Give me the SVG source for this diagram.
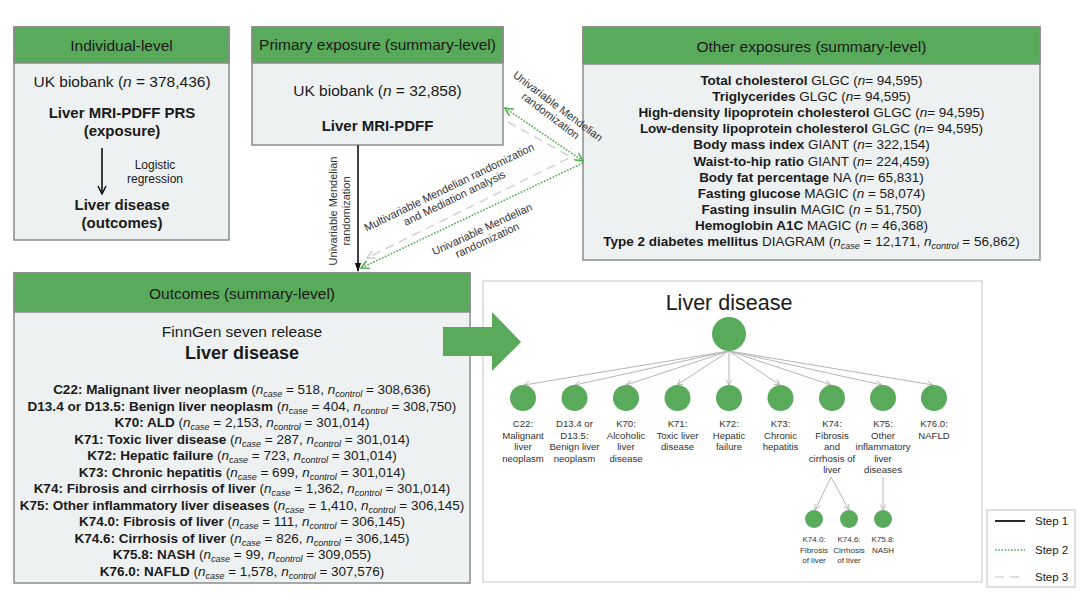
<svg xmlns="http://www.w3.org/2000/svg" width="1080" height="607" viewBox="0 0 1080 607">
<style>
text{font-family:"Liberation Sans",Arial,sans-serif;fill:#1a1a1a}
.hdr{fill:#5aaa5c;stroke:#8c8c8c;stroke-width:1.5}
.body{fill:#eef1f1;stroke:#8c8c8c;stroke-width:1.5}
.ht{font-size:15.5px;text-anchor:middle}
.bt{font-size:15.5px;text-anchor:middle}
.bb{font-size:15px;font-weight:bold;text-anchor:middle}
.lst{font-size:13.5px;text-anchor:middle}
.b{font-weight:bold}
.i{font-style:italic}
.sub{font-size:9px;font-style:italic}
.cl{font-size:11px;fill:#333;text-anchor:middle}
.tl{font-size:9.6px;fill:#333;text-anchor:middle}
.gl{font-size:8px;fill:#333;text-anchor:middle}
.node{fill:#5aaa5c}
.s1{stroke:#111;stroke-width:1.6;fill:none}
.s2{stroke:#4cae4f;stroke-width:1.6;stroke-dasharray:1.6 1.6;fill:none}
.s3{stroke:#d4d4d4;stroke-width:1.6;stroke-dasharray:9 6;fill:none}
.te{stroke:#b5b5b5;stroke-width:1;fill:none}
</style>
<defs>
<marker id="mV" viewBox="0 0 10 10" refX="9" refY="5" markerWidth="10" markerHeight="10" markerUnits="userSpaceOnUse" orient="auto"><path d="M1,1 L9,5 L1,9" fill="none" stroke="#111" stroke-width="1.5"/></marker>
<marker id="mB" viewBox="0 0 10 10" refX="9" refY="5" markerWidth="9" markerHeight="9" markerUnits="userSpaceOnUse" orient="auto"><path d="M0,1.5 L10,5 L0,8.5 z" fill="#111"/></marker>
<marker id="mG" viewBox="0 0 10 10" refX="9" refY="5" markerWidth="10" markerHeight="10" markerUnits="userSpaceOnUse" orient="auto-start-reverse"><path d="M1,1 L9,5 L1,9" fill="none" stroke="#4cae4f" stroke-width="1.5"/></marker>
<marker id="mS" viewBox="0 0 10 10" refX="9" refY="5" markerWidth="10" markerHeight="10" markerUnits="userSpaceOnUse" orient="auto"><path d="M1,1 L9,5 L1,9" fill="none" stroke="#d0d0d0" stroke-width="1.5"/></marker>
<marker id="mT" viewBox="0 0 10 10" refX="9" refY="5" markerWidth="7" markerHeight="7" markerUnits="userSpaceOnUse" orient="auto"><path d="M1,1 L9,5 L1,9" fill="none" stroke="#b5b5b5" stroke-width="1.3"/></marker>
</defs>
<rect width="1080" height="607" fill="#ffffff"/>

<g id="individual-level">
<rect class="body" x="14" y="27" width="215" height="213"/>
<rect class="hdr" x="14" y="27" width="215" height="36"/>
<text class="ht" x="121.5" y="51">Individual-level</text>
<text class="bt" x="122" y="87">UK biobank (<tspan class="i">n</tspan> = 378,436)</text>
<text class="bb" x="122" y="118">Liver MRI-PDFF PRS</text>
<text class="bb" x="122" y="136">(exposure)</text>
<line class="s1" x1="102" y1="148" x2="102" y2="194" marker-end="url(#mV)"/>
<text x="155" y="169" font-size="12px" fill="#333" text-anchor="middle">Logistic</text>
<text x="155" y="183" font-size="12px" fill="#333" text-anchor="middle">regression</text>
<text class="bb" x="122" y="210">Liver disease</text>
<text class="bb" x="122" y="228">(outcomes)</text>
</g>

<g id="primary-exposure">
<rect class="body" x="252" y="27" width="251" height="118"/>
<rect class="hdr" x="252" y="27" width="251" height="36"/>
<text class="ht" x="377.5" y="50">Primary exposure (summary-level)</text>
<text class="bt" x="377.5" y="96">UK biobank (<tspan class="i">n</tspan> = 32,858)</text>
<text class="bb" x="377.5" y="131">Liver MRI-PDFF</text>
</g>

<g id="other-exposures">
<rect class="body" x="583" y="27" width="457" height="233"/>
<rect class="hdr" x="583" y="27" width="457" height="37"/>
<text class="ht" x="811.5" y="52">Other exposures (summary-level)</text>
<text class="lst" x="811.5" y="85"><tspan class="b">Total cholesterol</tspan> GLGC (<tspan class="i">n</tspan>= 94,595)</text>
<text class="lst" x="811.5" y="101.1"><tspan class="b">Triglycerides</tspan> GLGC (<tspan class="i">n</tspan>= 94,595)</text>
<text class="lst" x="811.5" y="117.2"><tspan class="b">High-density lipoprotein cholesterol</tspan> GLGC (<tspan class="i">n</tspan>= 94,595)</text>
<text class="lst" x="811.5" y="133.3"><tspan class="b">Low-density lipoprotein cholesterol</tspan> GLGC (<tspan class="i">n</tspan>= 94,595)</text>
<text class="lst" x="811.5" y="149.4"><tspan class="b">Body mass index</tspan> GIANT (<tspan class="i">n</tspan>= 322,154)</text>
<text class="lst" x="811.5" y="165.5"><tspan class="b">Waist-to-hip ratio</tspan> GIANT (<tspan class="i">n</tspan>= 224,459)</text>
<text class="lst" x="811.5" y="181.6"><tspan class="b">Body fat percentage</tspan> NA (<tspan class="i">n</tspan>= 65,831)</text>
<text class="lst" x="811.5" y="197.7"><tspan class="b">Fasting glucose</tspan> MAGIC (<tspan class="i">n</tspan> = 58,074)</text>
<text class="lst" x="811.5" y="213.8"><tspan class="b">Fasting insulin</tspan> MAGIC (<tspan class="i">n</tspan> = 51,750)</text>
<text class="lst" x="811.5" y="229.9"><tspan class="b">Hemoglobin A1C</tspan> MAGIC (<tspan class="i">n</tspan> = 46,368)</text>
<text class="lst" x="811.5" y="246"><tspan class="b">Type 2 diabetes mellitus</tspan> DIAGRAM (<tspan class="i">n</tspan><tspan class="sub" dy="3">case</tspan><tspan dy="-3"> = 12,171, </tspan><tspan class="i">n</tspan><tspan class="sub" dy="3">control</tspan><tspan dy="-3"> = 56,862)</tspan></text>
</g>

<g id="outcomes">
<rect class="body" x="14" y="273" width="456" height="310"/>
<rect class="hdr" x="14" y="273" width="456" height="39"/>
<text class="ht" x="242" y="299">Outcomes (summary-level)</text>
<text class="bt" x="242" y="337">FinnGen seven release</text>
<text x="242" y="359" font-size="18px" font-weight="bold" text-anchor="middle">Liver disease</text>
<text class="lst" x="242" y="394"><tspan class="b">C22: Malignant liver neoplasm</tspan> (<tspan class="i">n</tspan><tspan class="sub" dy="3">case</tspan><tspan dy="-3"> = 518, </tspan><tspan class="i">n</tspan><tspan class="sub" dy="3">control</tspan><tspan dy="-3"> = 308,636)</tspan></text>
<text class="lst" x="242" y="410.5"><tspan class="b">D13.4 or D13.5: Benign liver neoplasm</tspan> (<tspan class="i">n</tspan><tspan class="sub" dy="3">case</tspan><tspan dy="-3"> = 404, </tspan><tspan class="i">n</tspan><tspan class="sub" dy="3">control</tspan><tspan dy="-3"> = 308,750)</tspan></text>
<text class="lst" x="242" y="427"><tspan class="b">K70: ALD</tspan> (<tspan class="i">n</tspan><tspan class="sub" dy="3">case</tspan><tspan dy="-3"> = 2,153, </tspan><tspan class="i">n</tspan><tspan class="sub" dy="3">control</tspan><tspan dy="-3"> = 301,014)</tspan></text>
<text class="lst" x="242" y="443.5"><tspan class="b">K71: Toxic liver disease</tspan> (<tspan class="i">n</tspan><tspan class="sub" dy="3">case</tspan><tspan dy="-3"> = 287, </tspan><tspan class="i">n</tspan><tspan class="sub" dy="3">control</tspan><tspan dy="-3"> = 301,014)</tspan></text>
<text class="lst" x="242" y="460"><tspan class="b">K72: Hepatic failure</tspan> (<tspan class="i">n</tspan><tspan class="sub" dy="3">case</tspan><tspan dy="-3"> = 723, </tspan><tspan class="i">n</tspan><tspan class="sub" dy="3">control</tspan><tspan dy="-3"> = 301,014)</tspan></text>
<text class="lst" x="242" y="476.5"><tspan class="b">K73: Chronic hepatitis</tspan> (<tspan class="i">n</tspan><tspan class="sub" dy="3">case</tspan><tspan dy="-3"> = 699, </tspan><tspan class="i">n</tspan><tspan class="sub" dy="3">control</tspan><tspan dy="-3"> = 301,014)</tspan></text>
<text class="lst" x="242" y="493"><tspan class="b">K74: Fibrosis and cirrhosis of liver</tspan> (<tspan class="i">n</tspan><tspan class="sub" dy="3">case</tspan><tspan dy="-3"> = 1,362, </tspan><tspan class="i">n</tspan><tspan class="sub" dy="3">control</tspan><tspan dy="-3"> = 301,014)</tspan></text>
<text class="lst" x="242" y="509.5"><tspan class="b">K75: Other inflammatory liver diseases</tspan> (<tspan class="i">n</tspan><tspan class="sub" dy="3">case</tspan><tspan dy="-3"> = 1,410, </tspan><tspan class="i">n</tspan><tspan class="sub" dy="3">control</tspan><tspan dy="-3"> = 306,145)</tspan></text>
<text class="lst" x="242" y="526"><tspan class="b">K74.0: Fibrosis of liver</tspan> (<tspan class="i">n</tspan><tspan class="sub" dy="3">case</tspan><tspan dy="-3"> = 111, </tspan><tspan class="i">n</tspan><tspan class="sub" dy="3">control</tspan><tspan dy="-3"> = 306,145)</tspan></text>
<text class="lst" x="242" y="542.5"><tspan class="b">K74.6: Cirrhosis of liver</tspan> (<tspan class="i">n</tspan><tspan class="sub" dy="3">case</tspan><tspan dy="-3"> = 826, </tspan><tspan class="i">n</tspan><tspan class="sub" dy="3">control</tspan><tspan dy="-3"> = 306,145)</tspan></text>
<text class="lst" x="242" y="559"><tspan class="b">K75.8: NASH</tspan> (<tspan class="i">n</tspan><tspan class="sub" dy="3">case</tspan><tspan dy="-3"> = 99, </tspan><tspan class="i">n</tspan><tspan class="sub" dy="3">control</tspan><tspan dy="-3"> = 309,055)</tspan></text>
<text class="lst" x="242" y="575.5"><tspan class="b">K76.0: NAFLD</tspan> (<tspan class="i">n</tspan><tspan class="sub" dy="3">case</tspan><tspan dy="-3"> = 1,578, </tspan><tspan class="i">n</tspan><tspan class="sub" dy="3">control</tspan><tspan dy="-3"> = 307,576)</tspan></text>
</g>

<g id="liver-disease-tree">
<rect x="483" y="281" width="499" height="301" fill="#ffffff" stroke="#cfcfcf" stroke-width="1.2"/>
<text x="729" y="310" font-size="21.5px" text-anchor="middle" fill="#111">Liver disease</text>
<g id="tree-edges">
<line class="te" x1="729" y1="351" x2="524" y2="385" marker-end="url(#mT)"/>
<line class="te" x1="729" y1="351" x2="575" y2="385" marker-end="url(#mT)"/>
<line class="te" x1="729" y1="351" x2="626" y2="385" marker-end="url(#mT)"/>
<line class="te" x1="729" y1="351" x2="677" y2="385" marker-end="url(#mT)"/>
<line class="te" x1="729" y1="351" x2="729" y2="385" marker-end="url(#mT)"/>
<line class="te" x1="729" y1="351" x2="780" y2="385" marker-end="url(#mT)"/>
<line class="te" x1="729" y1="351" x2="831" y2="385" marker-end="url(#mT)"/>
<line class="te" x1="729" y1="351" x2="882" y2="385" marker-end="url(#mT)"/>
<line class="te" x1="729" y1="351" x2="933" y2="385" marker-end="url(#mT)"/>
<line class="te" x1="831" y1="477" x2="815" y2="510" marker-end="url(#mT)"/>
<line class="te" x1="831" y1="477" x2="849" y2="510" marker-end="url(#mT)"/>
<line class="te" x1="883" y1="477" x2="883" y2="510" marker-end="url(#mT)"/>
</g>
<g id="root"><circle class="node" cx="729" cy="334" r="17"/></g>
<g id="c22"><circle class="node" cx="523" cy="398" r="13"/><text class="tl" x="523" y="427">C22:<tspan x="523" dy="11.6">Malignant</tspan><tspan x="523" dy="11.6">liver</tspan><tspan x="523" dy="11.6">neoplasm</tspan></text></g>
<g id="d13"><circle class="node" cx="574.5" cy="398" r="13"/><text class="tl" x="574.5" y="427">D13.4 or<tspan x="574.5" dy="11.6">D13.5:</tspan><tspan x="574.5" dy="11.6">Benign liver</tspan><tspan x="574.5" dy="11.6">neoplasm</tspan></text></g>
<g id="k70"><circle class="node" cx="626" cy="398" r="13"/><text class="tl" x="626" y="427">K70:<tspan x="626" dy="11.6">Alcoholic</tspan><tspan x="626" dy="11.6">liver</tspan><tspan x="626" dy="11.6">disease</tspan></text></g>
<g id="k71"><circle class="node" cx="677.5" cy="398" r="13"/><text class="tl" x="677.5" y="427">K71:<tspan x="677.5" dy="11.6">Toxic liver</tspan><tspan x="677.5" dy="11.6">disease</tspan></text></g>
<g id="k72"><circle class="node" cx="729" cy="398" r="13"/><text class="tl" x="729" y="427">K72:<tspan x="729" dy="11.6">Hepatic</tspan><tspan x="729" dy="11.6">failure</tspan></text></g>
<g id="k73"><circle class="node" cx="780.5" cy="398" r="13"/><text class="tl" x="780.5" y="427">K73:<tspan x="780.5" dy="11.6">Chronic</tspan><tspan x="780.5" dy="11.6">hepatitis</tspan></text></g>
<g id="k74"><circle class="node" cx="832" cy="398" r="13"/><text class="tl" x="832" y="427">K74:<tspan x="832" dy="11.6">Fibrosis</tspan><tspan x="832" dy="11.6">and</tspan><tspan x="832" dy="11.6">cirrhosis of</tspan><tspan x="832" dy="11.6">liver</tspan></text></g>
<g id="k75"><circle class="node" cx="883" cy="398" r="13"/><text class="tl" x="883" y="427">K75:<tspan x="883" dy="11.6">Other</tspan><tspan x="883" dy="11.6">inflammatory</tspan><tspan x="883" dy="11.6">liver</tspan><tspan x="883" dy="11.6">diseases</tspan></text></g>
<g id="k760"><circle class="node" cx="934" cy="398" r="13"/><text class="tl" x="934" y="427">K76.0:<tspan x="934" dy="11.6">NAFLD</tspan></text></g>
<g id="k740"><circle class="node" cx="814" cy="519" r="9"/><text class="gl" x="814" y="542">K74.0:<tspan x="814" dy="10.7">Fibrosis</tspan><tspan x="814" dy="10.7">of liver</tspan></text></g>
<g id="k746"><circle class="node" cx="849" cy="519" r="9"/><text class="gl" x="849" y="542">K74.6:<tspan x="849" dy="10.7">Cirrhosis</tspan><tspan x="849" dy="10.7">of liver</tspan></text></g>
<g id="k758"><circle class="node" cx="883" cy="519" r="9"/><text class="gl" x="883" y="542">K75.8:<tspan x="883" dy="10.7">NASH</tspan></text></g>
</g>

<g id="big-arrow">
<polygon points="443,327 492,327 492,312 521,342 492,371 492,356 443,356" fill="#5aaa5c"/>
</g>

<g id="connectors">
<line class="s1" x1="358" y1="145" x2="358" y2="271" marker-end="url(#mB)"/>
<line class="s2" x1="505" y1="108" x2="583" y2="161" marker-start="url(#mG)" marker-end="url(#mG)"/>
<line class="s2" x1="583" y1="163" x2="361" y2="268" marker-end="url(#mG)"/>
<polyline class="s3" points="508,122 571,157 367,258" marker-end="url(#mS)"/>
<text class="cl" transform="translate(333,211) rotate(-90)"><tspan x="0" y="4">Univariable Mendelian</tspan><tspan x="0" dy="12.5">randomization</tspan></text>
<text class="cl" transform="translate(558,106) rotate(37)"><tspan x="0" y="4">Univariable Mendelian</tspan><tspan x="0" dy="12">randomization</tspan></text>
<text class="cl" transform="translate(449,187) rotate(-26)"><tspan x="0" y="4">Multivariable Mendelian randomization</tspan><tspan x="0" dy="12">and Mediation analysis</tspan></text>
<text class="cl" transform="translate(482,229) rotate(-25)"><tspan x="0" y="4">Univariable Mendelian</tspan><tspan x="0" dy="12">randomization</tspan></text>
</g>

<g id="legend">
<rect x="987" y="510" width="88" height="77" fill="#ffffff" stroke="#c8c8c8" stroke-width="1.2"/>
<line x1="995" y1="521" x2="1025" y2="521" stroke="#111" stroke-width="1.8"/>
<line class="s2" x1="995" y1="550" x2="1025" y2="550"/>
<line class="s3" x1="995" y1="577" x2="1025" y2="577" stroke-dasharray="6 4"/>
<text x="1035" y="525" font-size="11.5px">Step 1</text>
<text x="1035" y="554" font-size="11.5px">Step 2</text>
<text x="1035" y="581" font-size="11.5px">Step 3</text>
</g>
</svg>
